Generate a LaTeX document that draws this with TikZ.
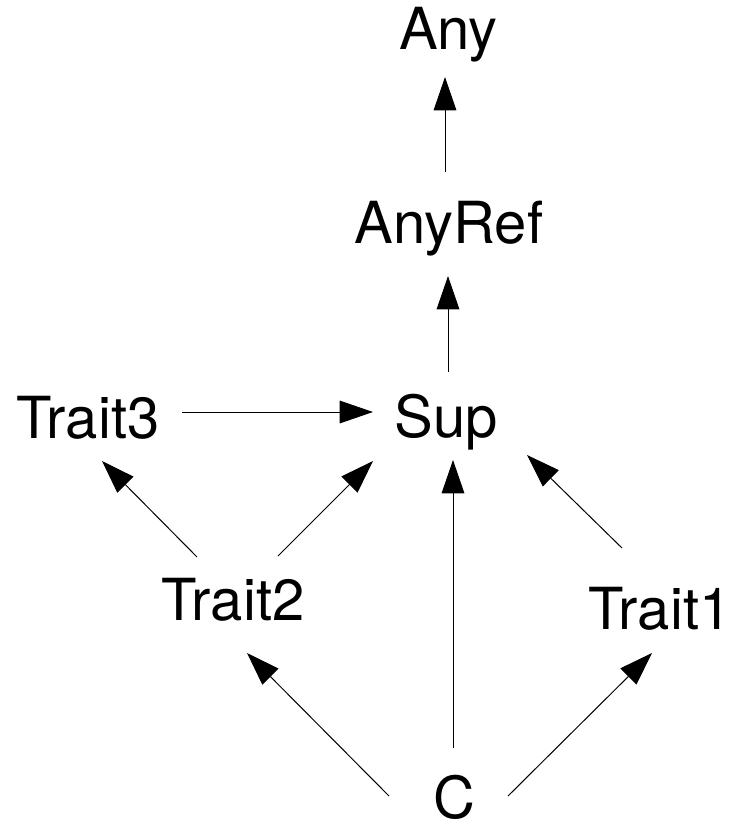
\documentclass[tikz,border=0pt]{standalone}
\usepackage{fontspec}
\setmainfont{TeX Gyre Heros}
\usetikzlibrary{arrows.meta,calc}
\tikzset{every picture/.style={line width=0.75pt}}
\tikzset{
  typename/.style={anchor=base, inner sep=0.75pt, font=\fontsize{43.5}{50}\selectfont},
  subtype/.style={-{Triangle[length=25pt,width=17pt]}, draw=black},
}

\begin{document}
\begin{tikzpicture}[x=0.75pt,y=0.75pt,yscale=-1,xscale=1]
\useasboundingbox (0,0) rectangle (735,825);

% Text Node
\node [typename] (any) at (448.5,49) {Any};
% Text Node
\node [typename] (anyref) at (449,243) {AnyRef};
% Text Node
\node [typename] (sup) at (446.5,437) {Sup};
% Text Node
\node [typename] (trait3) at (88,438) {Trait3};
% Text Node
\node [typename] (trait2) at (233,620) {Trait2};
% Text Node
\node [typename] (trait1) at (660,629) {Trait1};
% Text Node
\node [typename] (c) at (454.5,818) {C};

%Straight Lines
\draw [subtype] ($(anyref.base)+(-4,-71)$) -- ($(any.base)+(-3.5,28)$);
%Straight Lines
\draw [subtype] ($(sup.base)+(1.5,-65)$) -- ($(anyref.base)+(-1,33)$);
%Straight Lines
\draw [subtype] ($(trait3.base)+(94,-26)$) -- ($(sup.base)+(-73.5,-25)$);
%Straight Lines
\draw [subtype] ($(trait2.base)+(-36,-63)$) -- ($(trait3.base)+(14,23)$);
%Straight Lines
\draw [subtype] ($(trait2.base)+(45,-64)$) -- ($(sup.base)+(-73.5,24)$);
%Straight Lines
\draw [subtype] ($(c.base)+(-1.5,-70)$) -- ($(sup.base)+(6.5,23)$);
%Straight Lines
\draw [subtype] ($(trait1.base)+(-38,-81)$) -- ($(sup.base)+(80.5,18)$);
%Straight Lines
\draw [subtype] ($(c.base)+(-65.5,-22)$) -- ($(trait2.base)+(14,33)$);
%Straight Lines
\draw [subtype] ($(c.base)+(53.5,-22)$) -- ($(trait1.base)+(-8,24)$);

\end{tikzpicture}
\end{document}
